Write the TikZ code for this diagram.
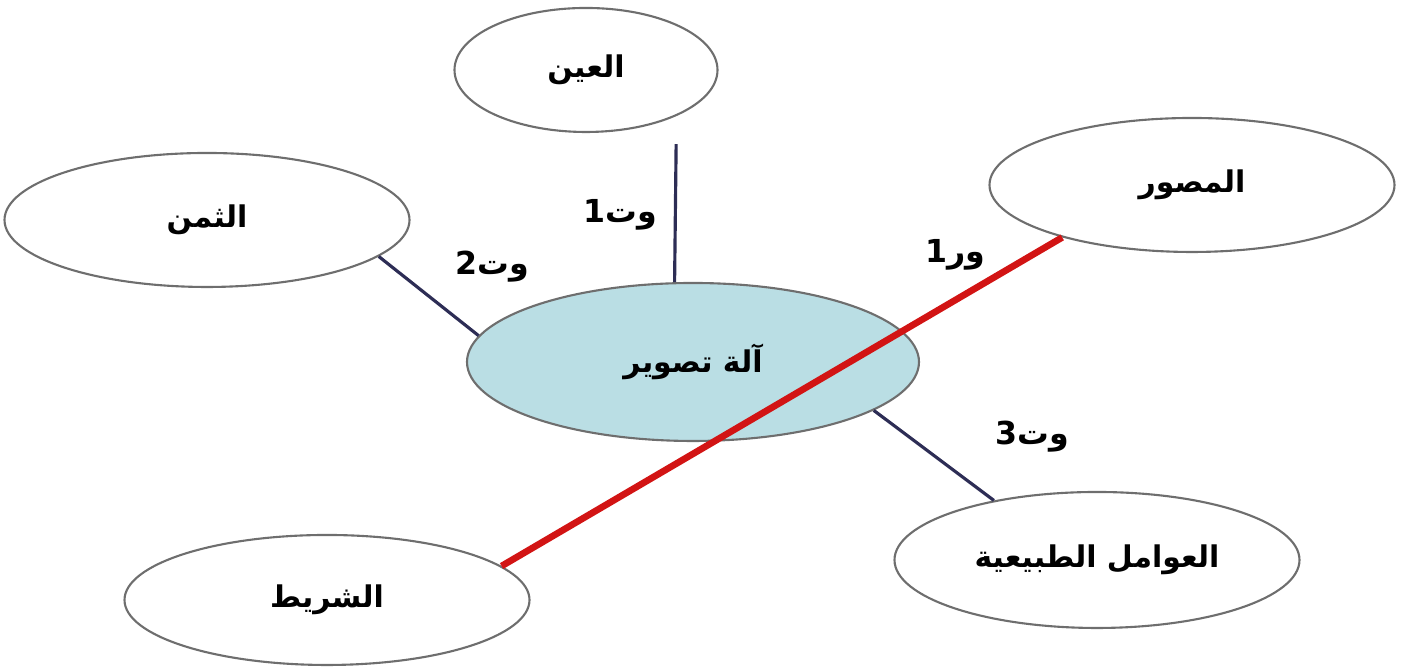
\documentclass[tikz,border=0pt]{standalone}
\usepackage{fontspec}
\newfontfamily\arabicfont[Script=Arabic]{DejaVu Sans}
\TeXXeTstate=1
\usetikzlibrary{positioning, shapes.geometric}
\definecolor{camblue}{RGB}{186,222,228}
\definecolor{navyline}{RGB}{45,45,85}
\definecolor{redline}{RGB}{210,20,20}
\definecolor{ovalgrey}{RGB}{110,110,110}

\begin{document}
\begin{tikzpicture}[
    oval/.style={draw=ovalgrey, ellipse, line width=0.6pt, minimum width=4.05cm, minimum height=1.34cm, inner sep=0pt, font=\arabicfont\bfseries\fontsize{8.5}{10}\selectfont},
    link/.style={draw=navyline, line width=0.9pt},
    cutlink/.style={draw=redline, line width=1.9pt},
    tag/.style={font=\arabicfont\bfseries\fontsize{9}{11}\selectfont}
]
\useasboundingbox (0,0) rectangle (14.05,6.71);

\node[oval, minimum width=2.63cm, minimum height=1.24cm] (eye) at (5.86,6.01) {\beginR العين\endR};
\node[oval] (price) at (2.07,4.51) {\beginR الثمن\endR};
\node[oval] (photographer) at (11.92,4.86) {\beginR المصور\endR};
\node[oval, fill=camblue, minimum width=4.52cm, minimum height=1.58cm] (camera) at (6.93,3.09) {\beginR آلة تصوير\endR};
\node[oval, minimum height=1.30cm] (film) at (3.27,0.71) {\beginR الشريط\endR};
\node[oval, minimum height=1.36cm] (nature) at (10.97,1.11) {\beginR العوامل الطبيعية\endR};

\node[tag] (t1) at (6.20,4.56) {\beginR وت1\endR};
\node[tag] (t2) at (4.92,4.04) {\beginR وت2\endR};
\node[tag] (r1) at (9.55,4.16) {\beginR ور1\endR};
\node[tag] (t3) at (10.32,2.34) {\beginR وت3\endR};

\draw[link, shorten <=0.28cm] (eye.-27) -- (camera.103);
\draw[link] (price.-12) -- (camera.173);
\draw[link] (camera.-15) -- (nature.150);
\draw[cutlink] (film.11) -- (photographer.202);

\end{tikzpicture}
\end{document}
